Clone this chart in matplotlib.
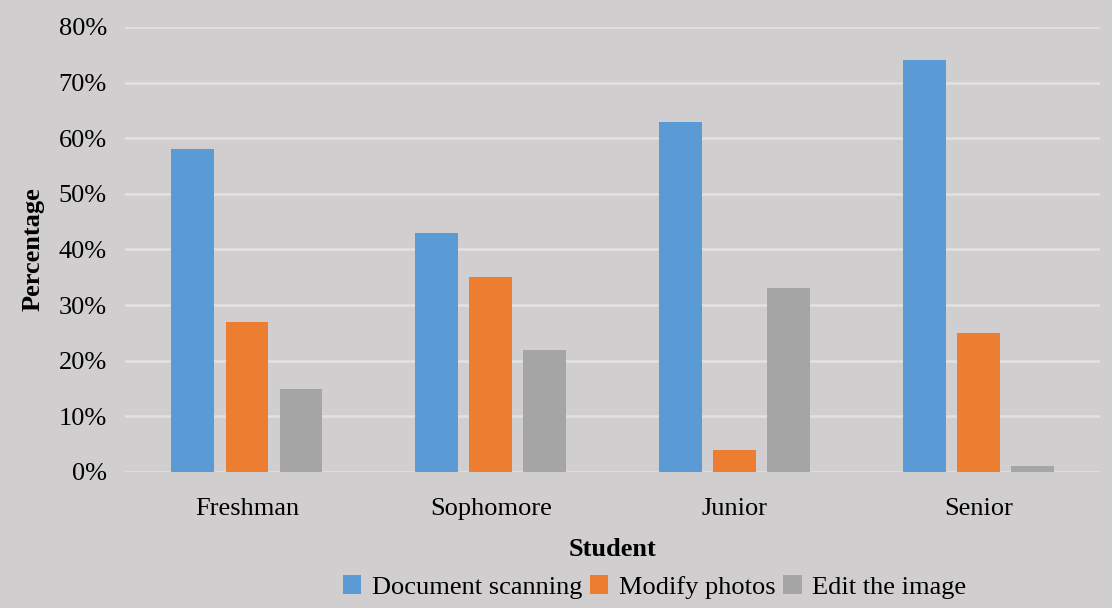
import numpy as np
import matplotlib.pyplot as plt
from matplotlib.ticker import FuncFormatter

plt.rcParams['font.family'] = ['Liberation Serif', 'DejaVu Serif']

categories = ['Freshman', 'Sophomore', 'Junior', 'Senior']
series_names = ['Document scanning', 'Modify photos', 'Edit the image']
doc_scanning = [58, 43, 63, 74]
modify_photos = [27, 35, 4, 25]
edit_image = [15, 22, 33, 1]
colors = ['#5b9bd5', '#ed7d31', '#a5a5a5']

bg = '#d0cece'
fig = plt.figure(figsize=(11.12, 6.08), dpi=100, facecolor=bg)
ax = fig.add_axes([0.1124, 0.2237, 0.877, 0.732])
ax.set_facecolor(bg)

x = np.arange(len(categories))
step = 0.222
width = 0.175
for i, (vals, name) in enumerate(zip([doc_scanning, modify_photos, edit_image], series_names)):
    ax.bar(x + (i - 1) * step, vals, width, color=colors[i], label=name, zorder=3)

ax.set_xlim(-0.5, 3.5)
ax.set_ylim(0, 80)
ax.set_yticks(range(0, 81, 10))
ax.yaxis.set_major_formatter(FuncFormatter(lambda v, p: f'{int(v)}%'))
ax.grid(axis='y', color='#e2e2e2', linewidth=1.8, zorder=0)
for s in ax.spines.values():
    s.set_visible(False)
ax.tick_params(length=0, labelsize=19, colors='black')
ax.tick_params(axis='x', pad=19)
ax.tick_params(axis='y', pad=13)
ax.set_xticks(x)
ax.set_xticklabels(categories)

ax.set_ylabel('Percentage', fontsize=19, fontweight='bold', labelpad=10)
ax.set_xlabel('Student', fontsize=19, fontweight='bold', labelpad=13)

ax.legend(loc='lower center', bbox_to_anchor=(0.543, -0.338), ncol=3, frameon=False,
          fontsize=19, handlelength=0.7, handleheight=0.7, handletextpad=0.4,
          columnspacing=0.3)

fig.savefig('out.png', dpi=100, facecolor=bg)
